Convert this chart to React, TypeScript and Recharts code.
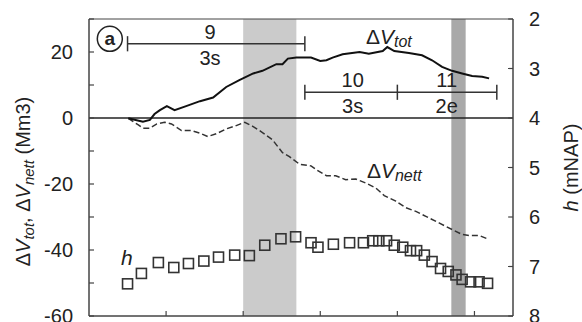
import React from "react";
import {
  ComposedChart,
  Line,
  Scatter,
  XAxis,
  YAxis,
  ReferenceLine,
  ReferenceArea,
  ReferenceDot,
} from "recharts";

// time axis (no labels), volume axis (left) and water level axis (right)
const timeTicks = [1, 2, 3, 4, 5];
const volumeTicks = [-60, -50, -40, -30, -20, -10, 0, 10, 20, 30];
const levelTicks = [2, 3, 4, 5, 6, 7, 8];

const deltaVTot = [
  { t: 0.51, v: -0.1 }, { t: 0.7, v: -1.1 }, { t: 0.79, v: -0.6 },
  { t: 0.85, v: 1.2 }, { t: 0.92, v: 2.4 }, { t: 1.01, v: 3.6 },
  { t: 1.11, v: 2.4 }, { t: 1.26, v: 3.6 }, { t: 1.44, v: 5.1 },
  { t: 1.61, v: 6.2 }, { t: 1.78, v: 9.4 }, { t: 1.95, v: 11.5 },
  { t: 2.13, v: 13.5 }, { t: 2.25, v: 14.3 }, { t: 2.43, v: 16.3 },
  { t: 2.51, v: 16.3 }, { t: 2.58, v: 18.0 }, { t: 2.69, v: 18.3 },
  { t: 2.88, v: 18.3 }, { t: 3.0, v: 17.3 }, { t: 3.08, v: 17.5 },
  { t: 3.16, v: 18.3 }, { t: 3.29, v: 19.3 }, { t: 3.51, v: 20.0 },
  { t: 3.63, v: 19.5 }, { t: 3.81, v: 20.3 }, { t: 3.87, v: 21.5 },
  { t: 3.96, v: 20.3 }, { t: 4.15, v: 19.7 }, { t: 4.32, v: 19.0 },
  { t: 4.45, v: 17.5 }, { t: 4.58, v: 15.5 }, { t: 4.71, v: 14.3 },
  { t: 4.84, v: 13.5 }, { t: 4.97, v: 12.7 }, { t: 5.1, v: 12.5 },
  { t: 5.19, v: 12.0 },
];

const deltaVNett = [
  { t: 0.51, v: -0.1 }, { t: 0.64, v: -2.1 }, { t: 0.7, v: -3.1 },
  { t: 0.79, v: -3.1 }, { t: 0.88, v: -1.8 }, { t: 0.98, v: -1.3 },
  { t: 1.07, v: -1.8 }, { t: 1.2, v: -3.8 }, { t: 1.33, v: -3.8 },
  { t: 1.44, v: -4.6 }, { t: 1.54, v: -5.6 }, { t: 1.65, v: -4.8 },
  { t: 1.78, v: -3.3 }, { t: 1.91, v: -2.3 }, { t: 2.02, v: -1.3 },
  { t: 2.13, v: -2.6 }, { t: 2.25, v: -4.4 }, { t: 2.38, v: -6.6 },
  { t: 2.51, v: -10.5 }, { t: 2.6, v: -11.7 }, { t: 2.73, v: -14.0 },
  { t: 2.88, v: -14.5 }, { t: 2.95, v: -15.7 }, { t: 3.08, v: -17.5 },
  { t: 3.2, v: -17.5 }, { t: 3.33, v: -18.7 }, { t: 3.46, v: -18.5 },
  { t: 3.59, v: -19.7 }, { t: 3.72, v: -21.2 }, { t: 3.83, v: -23.5 },
  { t: 3.98, v: -25.2 }, { t: 4.11, v: -27.2 }, { t: 4.24, v: -28.3 },
  { t: 4.37, v: -29.8 }, { t: 4.54, v: -31.8 }, { t: 4.71, v: -33.8 },
  { t: 4.84, v: -35.3 }, { t: 4.93, v: -35.6 }, { t: 5.06, v: -35.6 },
  { t: 5.19, v: -36.8 },
];

const waterLevel = [
  { t: 0.5, h: 7.35 }, { t: 0.68, h: 7.14 }, { t: 0.9, h: 6.92 },
  { t: 1.1, h: 7.02 }, { t: 1.29, h: 6.94 }, { t: 1.49, h: 6.89 },
  { t: 1.68, h: 6.81 }, { t: 1.89, h: 6.77 }, { t: 2.08, h: 6.78 },
  { t: 2.28, h: 6.57 }, { t: 2.49, h: 6.44 }, { t: 2.68, h: 6.4 },
  { t: 2.88, h: 6.52 }, { t: 2.97, h: 6.61 }, { t: 3.17, h: 6.55 },
  { t: 3.38, h: 6.52 }, { t: 3.56, h: 6.52 }, { t: 3.68, h: 6.48 },
  { t: 3.76, h: 6.48 }, { t: 3.86, h: 6.48 }, { t: 3.96, h: 6.57 },
  { t: 4.07, h: 6.61 }, { t: 4.17, h: 6.68 }, { t: 4.25, h: 6.68 },
  { t: 4.35, h: 6.77 }, { t: 4.45, h: 6.9 }, { t: 4.56, h: 7.04 },
  { t: 4.66, h: 7.1 }, { t: 4.76, h: 7.17 }, { t: 4.84, h: 7.26 },
  { t: 4.95, h: 7.31 }, { t: 5.06, h: 7.31 }, { t: 5.17, h: 7.34 },
];

// shaded periods
const lightBand = [2.0, 2.69];
const darkBand = [4.7, 4.886];

// surveys / periods marked above the curves
const periodEdges = [0.5, 2.8, 4.0, 5.29];
const periodNames = ["9", "10", "11"];
const periodTypes = ["3s", "3s", "2e"];
const periodLabelT = [1.57, 3.42, 4.64];

const AXIS = "#444";
const INK = "#222";
const FONT = "'Liberation Sans', Arial, sans-serif";
const TICK_LEN = 5;
const MARGIN_Y = 16;

// ticks drawn by hand so the little marks point into the plot
const LeftTick = ({ x, y, payload }: any) => {
  const ax = x + MARGIN_Y;
  const v = payload.value as number;
  return (
    <g>
      <line x1={ax} x2={ax + TICK_LEN} y1={y} y2={y} stroke={AXIS} strokeWidth={1.2} />
      {v % 20 === 0 && (
        <text x={x} y={y} textAnchor="end" dominantBaseline="central" fontSize={20} fill={INK} fontFamily={FONT}>
          {String(v)}
        </text>
      )}
    </g>
  );
};

const RightTick = ({ x, y, payload }: any) => {
  const ax = x - MARGIN_Y;
  return (
    <g>
      <line x1={ax - TICK_LEN} x2={ax} y1={y} y2={y} stroke={AXIS} strokeWidth={1.2} />
      <text x={x} y={y} textAnchor="start" dominantBaseline="central" fontSize={20} fill={INK} fontFamily={FONT}>
        {payload.value}
      </text>
    </g>
  );
};

const BottomTick = ({ x, y }: any) => {
  const ay = y - 2;
  return <line x1={x} x2={x} y1={ay - TICK_LEN} y2={ay} stroke={AXIS} strokeWidth={1.2} />;
};

const textAt = (label: string, size = 20) => (p: any) => (
  <text x={p.cx} y={p.cy} textAnchor="middle" dominantBaseline="central" fontSize={size} fill={INK} fontFamily={FONT}>
    {label}
  </text>
);

function VolumeTitle({ viewBox }: any) {
  const x = viewBox.x + 23;
  const y = viewBox.y + viewBox.height / 2 + 14;
  return (
    <text x={x} y={y} transform={`rotate(-90 ${x} ${y})`} textAnchor="middle" dominantBaseline="central" fontSize={20} fill={INK} fontFamily={FONT}>
      <tspan>Δ</tspan>
      <tspan fontStyle="italic">V</tspan>
      <tspan fontStyle="italic" fontSize={15} dy={5}>tot</tspan>
      <tspan dy={-5}>, Δ</tspan>
      <tspan fontStyle="italic">V</tspan>
      <tspan fontStyle="italic" fontSize={15} dy={5}>nett</tspan>
      <tspan dy={-5}> (Mm3)</tspan>
    </text>
  );
}

function LevelTitle({ viewBox }: any) {
  const x = viewBox.x + 58;
  const y = viewBox.y + viewBox.height / 2;
  return (
    <text x={x} y={y} transform={`rotate(-90 ${x} ${y})`} textAnchor="middle" dominantBaseline="central" fontSize={20} fill={INK} fontFamily={FONT}>
      <tspan fontStyle="italic">h</tspan>
      <tspan> (mNAP)</tspan>
    </text>
  );
}

const SeriesName = (sub: string) => (p: any) => (
  <text x={p.cx} y={p.cy} textAnchor="middle" dominantBaseline="central" fontSize={21} fill={INK} fontFamily={FONT}>
    <tspan>Δ</tspan>
    <tspan fontStyle="italic">V</tspan>
    <tspan fontStyle="italic" fontSize={16} dy={5}>{sub}</tspan>
  </text>
);

const Square = (p: any) => (
  <rect x={p.cx - 5} y={p.cy - 5} width={10} height={10} fill="none" stroke="#333" strokeWidth={1.6} />
);

export default function App() {
  const rows = [22.5, 7.8, 7.8];
  return (
    <div style={{ width: 582, height: 322, background: "#fff" }}>
      <style>{"body{margin:0}"}</style>
      <ComposedChart
        width={582}
        height={322}
        margin={{ top: 19, right: 0, left: 0, bottom: 0 }}
        style={{ fontFamily: FONT }}
      >
        <XAxis
          type="number"
          dataKey="t"
          domain={[0, 5.5]}
          ticks={timeTicks}
          interval={0}
          tickSize={0}
          tickMargin={2}
          tickLine={false}
          tick={BottomTick}
          height={6}
          stroke={AXIS}
          allowDataOverflow
        />
        <YAxis
          yAxisId="left"
          domain={[-60, 30]}
          ticks={volumeTicks}
          interval={0}
          tickSize={0}
          tickMargin={MARGIN_Y}
          tickLine={false}
          tick={LeftTick}
          width={89}
          stroke={AXIS}
          label={{ content: VolumeTitle }}
        />
        <YAxis
          yAxisId="right"
          orientation="right"
          domain={[2, 8]}
          reversed
          ticks={levelTicks}
          interval={0}
          tickSize={0}
          tickMargin={MARGIN_Y}
          tickLine={false}
          tick={RightTick}
          width={69}
          stroke={AXIS}
          label={{ content: LevelTitle }}
        />

        <ReferenceArea yAxisId="left" x1={lightBand[0]} x2={lightBand[1]} y1={-60} y2={30} fill="#cbcbcb" fillOpacity={1} stroke="none" />
        <ReferenceArea yAxisId="left" x1={darkBand[0]} x2={darkBand[1]} y1={-60} y2={30} fill="#a9a9a9" fillOpacity={1} stroke="none" />
        <ReferenceArea yAxisId="left" x1={0} x2={5.5} y1={-60} y2={30} fill="none" stroke={AXIS} strokeWidth={1} />
        <ReferenceLine yAxisId="left" y={0} stroke={INK} strokeWidth={1.5} />

        <Line yAxisId="left" data={deltaVNett} dataKey="v" type="linear" dot={false} stroke="#333" strokeWidth={1.5} strokeDasharray="6 3" isAnimationActive={false} />
        <Line yAxisId="left" data={deltaVTot} dataKey="v" type="linear" dot={false} stroke="#111" strokeWidth={2} isAnimationActive={false} />
        <Scatter yAxisId="right" data={waterLevel} dataKey="h" shape={Square} isAnimationActive={false} />

        {periodNames.map((name, i) => (
          <ReferenceLine
            key={`bar-${name}`}
            yAxisId="left"
            segment={[{ x: periodEdges[i], y: rows[i] }, { x: periodEdges[i + 1], y: rows[i] }]}
            stroke="#333"
            strokeWidth={1.5}
          />
        ))}
        {periodEdges.map((e, i) => (
          <React.Fragment key={`cap-${i}`}>
            <ReferenceLine yAxisId="left" segment={[{ x: e, y: rows[Math.min(i, 2)] - 2.3 }, { x: e, y: rows[Math.min(i, 2)] + 2.3 }]} stroke="#333" strokeWidth={1.5} />
            {i === 1 && (
              <ReferenceLine yAxisId="left" segment={[{ x: e, y: rows[0] - 2.3 }, { x: e, y: rows[0] + 2.3 }]} stroke="#333" strokeWidth={1.5} />
            )}
          </React.Fragment>
        ))}
        {periodNames.map((name, i) => (
          <ReferenceDot key={`n-${name}`} yAxisId="left" x={periodLabelT[i]} y={rows[i] + 3.6} r={0} shape={textAt(name)} />
        ))}
        {periodTypes.map((type, i) => (
          <ReferenceDot key={`ty-${i}`} yAxisId="left" x={periodLabelT[i]} y={rows[i] - 4.2} r={0} shape={textAt(type)} />
        ))}

        <ReferenceDot yAxisId="left" x={3.89} y={25} r={0} shape={SeriesName("tot")} />
        <ReferenceDot yAxisId="left" x={3.96} y={-15.7} r={0} shape={SeriesName("nett")} />
        <ReferenceDot
          yAxisId="left"
          x={0.49}
          y={-42.2}
          r={0}
          shape={(p: any) => (
            <text x={p.cx} y={p.cy} textAnchor="middle" dominantBaseline="central" fontSize={21} fontStyle="italic" fill={INK} fontFamily={FONT}>
              h
            </text>
          )}
        />
        <ReferenceDot
          yAxisId="left"
          x={0.27}
          y={24}
          r={0}
          shape={(p: any) => (
            <g>
              <circle cx={p.cx} cy={p.cy} r={12.5} fill="#fff" stroke="#222" strokeWidth={1.5} />
              <text x={p.cx} y={p.cy} textAnchor="middle" dominantBaseline="central" fontSize={19} fontWeight="bold" fill={INK} fontFamily={FONT}>
                a
              </text>
            </g>
          )}
        />
      </ComposedChart>
    </div>
  );
}
